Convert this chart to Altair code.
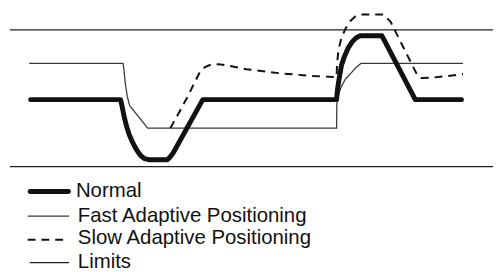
import altair as alt
import pandas as pd

# time (t) and level (v) values
normal_t = [23, 114.5, 116, 118, 120.5, 123, 126, 129, 132, 135, 139, 143, 162, 165, 168, 198,
            334, 335, 337, 339, 342, 346, 350, 354, 358, 380, 414, 461]
normal_v = [173, 173, 166, 156, 146, 138, 131, 125, 120, 116, 113, 112, 112, 115, 119, 173,
            173, 184, 197, 208, 217, 226, 232, 236, 238, 238, 173, 173]

fast_t = [21.5, 117, 118, 119.3, 121.3, 123.7, 142, 334, 334.3, 336, 338.7, 343, 348.7, 354, 359, 462.5]
fast_v = [210, 210, 202, 189, 176, 167, 144, 144, 169, 178, 186, 194, 200, 206, 210, 210]

slow_t = [165, 175, 182, 189, 195, 200, 206, 214, 222, 242, 275, 309, 334, 334.5, 336, 339, 343,
          348, 353, 358, 382, 389, 399, 409, 416, 420, 432, 447, 462.5]
slow_v = [144, 162, 175, 189, 201, 206, 208.5, 209, 208, 204, 200, 197, 196, 210, 224, 236, 245,
          253, 257.5, 259.5, 259.5, 252, 232, 212, 198, 195, 195.5, 197, 199]

limit_t = [2, 493]
upper_limit = [244, 244]
lower_limit = [105, 105]

series = ["Normal", "Fast Adaptive Positioning", "Slow Adaptive Positioning", "Limits"]

xs = alt.Scale(domain=[0, 493], nice=False, zero=False)
ys = alt.Scale(domain=[0, 264], nice=False, zero=False)


def line_layer(ts, vs, name, color, width, dash=None, cap="butt"):
    d = pd.DataFrame({"t": ts, "v": vs, "s": name})
    kw = dict(stroke=color, strokeWidth=width, strokeCap=cap, strokeJoin="round")
    if dash:
        kw["strokeDash"] = dash
    enc = dict(x=alt.X("t:Q", scale=xs, axis=None), y=alt.Y("v:Q", scale=ys, axis=None))
    return alt.Chart(d).mark_line(**kw).encode(**enc)


layers = [
    line_layer(limit_t, upper_limit, series[3], "#222222", 1.3),
    line_layer(limit_t, lower_limit, series[3], "#222222", 1.3),
    line_layer(fast_t, fast_v, series[1], "#3a3a3a", 1.3),
    line_layer(slow_t, slow_v, series[2], "#111111", 2, dash=[8, 6]),
    line_layer(normal_t, normal_v, series[0], "#111111", 5, cap="round"),
]

# legend (drawn by hand to match the reference's compact layout)
leg_styles = [
    dict(stroke="#111111", strokeWidth=5, strokeCap="round", x1=22.5, x2=61.5, y=184.3, tx=69, ty=189.5),
    dict(stroke="#3a3a3a", strokeWidth=1.3, strokeCap="butt", x1=20, x2=62, y=209.3, tx=71, ty=215),
    dict(stroke="#111111", strokeWidth=2, strokeCap="butt", x1=20, x2=56, y=233.3, tx=71, ty=237.5, dash=[8, 6]),
    dict(stroke="#222222", strokeWidth=1.3, strokeCap="butt", x1=22, x2=62, y=256.7, tx=71, ty=262),
]
for name, st in zip(series, leg_styles):
    ld = pd.DataFrame({"label": [name]})
    mk = dict(stroke=st["stroke"], strokeWidth=st["strokeWidth"], strokeCap=st["strokeCap"])
    if "dash" in st:
        mk["strokeDash"] = st["dash"]
    layers.append(alt.Chart(ld).mark_rule(**mk).encode(
        x=alt.value(st["x1"]), x2=alt.value(st["x2"]), y=alt.value(st["y"])))
    layers.append(alt.Chart(ld).mark_text(font="Liberation Sans", fontSize=20.7, align="left",
                                          baseline="alphabetic", color="#111111").encode(
        x=alt.value(st["tx"]), y=alt.value(st["ty"]), text="label:N"))

chart = alt.layer(*layers).properties(
    width=493, height=264, padding=0, autosize=alt.AutoSizeParams(type="none")
).configure_view(stroke=None)

chart.save("out.html", embed_options={"renderer": "svg", "actions": False})
